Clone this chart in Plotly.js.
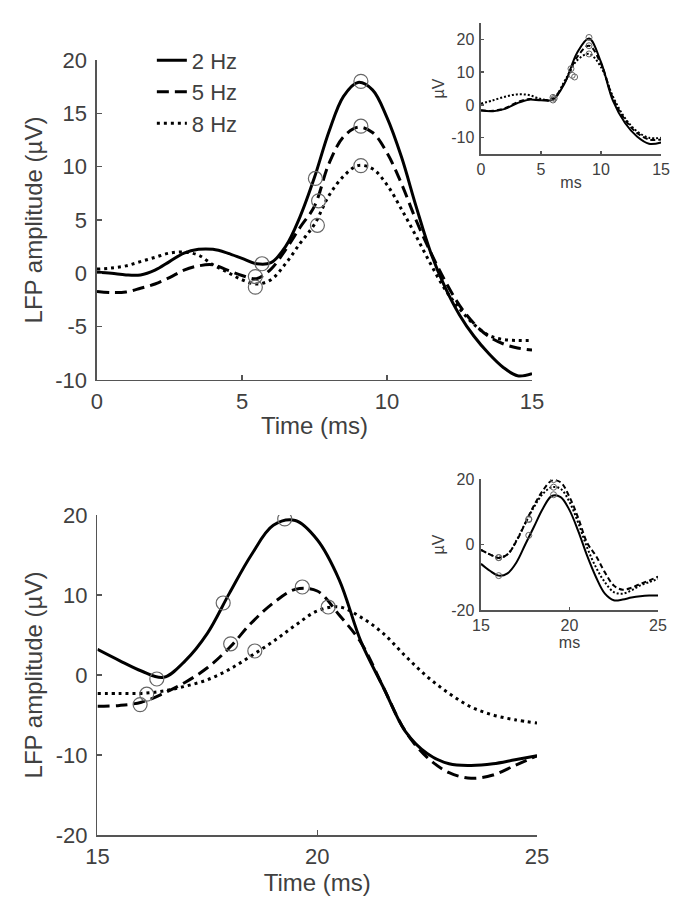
<!DOCTYPE html>
<html>
<head>
<meta charset="utf-8">
<script src="https://cdn.plot.ly/plotly-3.0.1.min.js"></script>
<style>html,body{margin:0;padding:0;background:#fff;}#chart{width:684px;height:915px;}</style>
</head>
<body>
<div id="chart"></div>
<script>
// ---------- Data ----------
const seriesNames = ["2 Hz", "5 Hz", "8 Hz"];

// Top main panel (0-15 ms)
const topX = [0,0.5,1,1.5,2,2.5,3,3.5,4,4.5,5,5.5,6,6.5,7,7.5,8,8.5,9,9.5,10,10.5,11,11.5,12,12.5,13,13.5,14,14.5,15];
const top2Hz = [0.1,0,-0.15,-0.15,0.3,1.1,1.9,2.25,2.25,1.9,1.4,0.9,1.0,2.5,5.3,9.0,13.3,16.6,17.9,17.2,14.6,10.9,6.3,2.0,-1.3,-3.9,-5.9,-7.5,-8.8,-9.6,-9.4];
const top5Hz = [-1.7,-1.8,-1.75,-1.4,-1.0,-0.4,0.3,0.7,0.8,0.3,-0.2,-0.5,0.4,2.2,4.3,6.3,10.3,12.8,13.7,13.2,11.3,8.4,5.0,2.0,-0.7,-3.0,-4.7,-5.9,-6.6,-7.0,-7.2];
const top8Hz = [0.4,0.5,0.7,1.1,1.5,1.9,2.0,1.7,0.8,0.1,-0.6,-1.0,-0.6,0.9,2.8,4.6,7.3,9.1,10.1,9.8,8.3,6.0,3.5,0.9,-1.5,-3.3,-4.8,-5.8,-6.2,-6.3,-6.3];
const topMarkX2 = [5.69,7.53,9.1], topMarkY2 = [0.9,8.9,18.0];
const topMarkX5 = [5.46,7.64,9.1], topMarkY5 = [-0.3,6.8,13.8];
const topMarkX8 = [5.46,7.6,9.1],  topMarkY8 = [-1.3,4.5,10.1];

// Top inset (0-15 ms)
const insTopX = [0,1,2,3,4,5,6,7,8,9,10,11,12,13,14,15];
const insTop2Hz = [-1.7,-1.9,-1.2,0.5,1.6,1.4,1.6,6.8,15.8,20.2,13.0,1.2,-5.5,-9.6,-11.8,-11.4];
const insTop5Hz = [-1.6,-1.8,-1.0,0.8,1.8,1.5,2.0,7.0,14.5,18.0,12.5,2.0,-4.5,-8.5,-10.5,-10.5];
const insTop8Hz = [0.4,1.4,2.5,3.2,3.0,1.8,1.6,7.5,13.5,15.5,11.5,2.5,-4.0,-8.0,-10.0,-10.0];
const insTopMarkX = [6.1,7.5,9.0, 6.0,7.6,9.0, 6.0,7.8,9.0];
const insTopMarkY = [2.0,11.0,20.5, 1.5,9.0,18.0, 2.3,8.5,15.5];

// Bottom main panel (15-25 ms)
const botX = [15,15.5,16,16.5,17,17.5,18,18.5,19,19.5,20,20.5,21,21.5,22,22.5,23,23.5,24,24.5,25];
const bot2Hz = [3.2,1.8,0.5,-0.3,1.8,5.2,10.2,15.0,18.7,19.3,16.9,11.9,4.1,-1.5,-7.0,-9.8,-11.1,-11.3,-11.1,-10.6,-10.1];
const bot5Hz = [-3.9,-3.8,-3.4,-2.3,-0.9,0.9,3.4,6.5,9.0,10.7,10.5,7.5,4.0,-1.5,-7.0,-10.3,-12.2,-12.9,-12.5,-11.3,-10.1];
const bot8Hz = [-2.3,-2.3,-2.3,-2.0,-1.4,-0.6,0.7,2.4,4.2,6.2,8.0,8.5,7.2,5.2,2.4,-0.2,-2.3,-4.0,-5.0,-5.6,-6.0];
const botMarkX2 = [16.35,17.86,19.26], botMarkY2 = [-0.5,9.0,19.5];
const botMarkX5 = [15.97,18.03,19.66], botMarkY5 = [-3.7,3.9,11.0];
const botMarkX8 = [16.12,18.58,20.25], botMarkY8 = [-2.4,3.0,8.5];

// Bottom inset (15-25 ms)
const insBotX = [15,15.5,16,16.5,17,17.5,18,18.5,19,19.5,20,20.5,21,21.5,22,22.5,23,23.5,24,24.5,25];
const insBot2Hz = [-5.9,-8.0,-9.5,-8.8,-5.5,0.0,5.5,11.0,14.8,14.5,10.5,4.0,-3.5,-10.0,-15.0,-17.0,-16.8,-16.2,-15.8,-15.6,-15.6];
const insBot5Hz = [-1.6,-3.0,-4.1,-3.0,1.0,6.5,12.0,16.5,19.5,19.0,14.5,8.0,0.5,-3.5,-8.5,-12.5,-13.8,-13.2,-12.0,-11.0,-9.8];
const insBot8Hz = [-1.6,-3.0,-4.0,-3.0,1.2,6.5,11.5,15.5,17.5,17.0,13.0,6.5,-1.0,-7.0,-11.5,-14.5,-15.0,-14.0,-12.5,-11.5,-10.5];
const insBotMarkX = [16.0,17.7,19.1, 16.0,17.7,19.1, 16.0,17.7,19.1];
const insBotMarkY = [-9.5,2.8,15.2, -4.0,7.8,19.8, -4.0,7.6,17.5];

// Tick values / labels
const topXTicks = [0,5,10,15];
const topYTicks = [-10,-5,0,5,10,15,20];
const topYLabels = ["-10","-5","0","5","10","15","20"];
const insTopYTicks = [-10,0,10,20];
const insTopYLabels = ["-10","0","10","20"];
const botXTicks = [15,20,25];
const botYTicks = [-20,-10,0,10,20];
const botYLabels = ["-20","-10","0","10","20"];
const insBotYTicks = [-20,0,20];
const insBotYLabels = ["-20","0","20"];

// ---------- Styles ----------
const TXT = '#404040';
const AX = '#555555';
const FONT = 'Arial, "Liberation Sans", sans-serif';
const mainDash = ['solid', '12px,6px', '3px,4px'];
const insDash = ['solid', '5px,3px', '2px,2px'];

function line(x, y, i, xa, ya, w, dashes, legend) {
  return {x: x, y: y, xaxis: xa, yaxis: ya, type: 'scatter', mode: 'lines',
    name: seriesNames[i], showlegend: !!legend, legendgroup: seriesNames[i],
    line: {color: '#000', width: w, dash: dashes[i], shape: 'spline', smoothing: 1},
    hoverinfo: 'skip'};
}
function marks(x, y, xa, ya, size, lw) {
  return {x: x, y: y, xaxis: xa, yaxis: ya, type: 'scatter', mode: 'markers', showlegend: false,
    marker: {symbol: 'circle-open', size: size, color: '#666', line: {width: lw, color: '#666'}},
    hoverinfo: 'skip'};
}

const traces = [
  line(topX, top2Hz, 0, 'x', 'y', 3, mainDash, true),
  line(topX, top5Hz, 1, 'x', 'y', 3, mainDash, true),
  line(topX, top8Hz, 2, 'x', 'y', 3, mainDash, true),
  marks(topMarkX2, topMarkY2, 'x', 'y', 14, 1.2),
  marks(topMarkX5, topMarkY5, 'x', 'y', 14, 1.2),
  marks(topMarkX8, topMarkY8, 'x', 'y', 14, 1.2),

  line(insTopX, insTop2Hz, 0, 'x2', 'y2', 2, insDash, false),
  line(insTopX, insTop5Hz, 1, 'x2', 'y2', 2, insDash, false),
  line(insTopX, insTop8Hz, 2, 'x2', 'y2', 2, insDash, false),
  marks(insTopMarkX, insTopMarkY, 'x2', 'y2', 6, 1),

  line(botX, bot2Hz, 0, 'x3', 'y3', 3, mainDash, false),
  line(botX, bot5Hz, 1, 'x3', 'y3', 3, mainDash, false),
  line(botX, bot8Hz, 2, 'x3', 'y3', 3, mainDash, false),
  marks(botMarkX2, botMarkY2, 'x3', 'y3', 14, 1.2),
  marks(botMarkX5, botMarkY5, 'x3', 'y3', 14, 1.2),
  marks(botMarkX8, botMarkY8, 'x3', 'y3', 14, 1.2),

  line(insBotX, insBot2Hz, 0, 'x4', 'y4', 2, insDash, false),
  line(insBotX, insBot5Hz, 1, 'x4', 'y4', 2, insDash, false),
  line(insBotX, insBot8Hz, 2, 'x4', 'y4', 2, insDash, false),
  marks(insBotMarkX, insBotMarkY, 'x4', 'y4', 6, 1)
];

function axis(opts) {
  return Object.assign({
    showline: true, linecolor: AX, linewidth: 1.5, mirror: false,
    ticks: 'inside', ticklen: 5, tickcolor: AX, tickwidth: 1.2,
    showgrid: false, zeroline: false, fixedrange: true,
    tickfont: {family: FONT, size: 22, color: TXT}
  }, opts);
}
const mainTitleFont = {family: FONT, size: 24, color: TXT};
const insFont = {family: FONT, size: 16, color: TXT};

const layout = {
  width: 684, height: 915,
  margin: {l: 0, r: 0, t: 0, b: 0},
  paper_bgcolor: '#fff', plot_bgcolor: 'rgba(0,0,0,0)',
  font: {family: FONT, color: TXT},
  showlegend: true,
  legend: {x: 0.222, y: 0.957, xanchor: 'left', yanchor: 'top', bgcolor: 'rgba(0,0,0,0)',
    font: {family: FONT, size: 22, color: TXT}, tracegroupgap: 0, itemwidth: 30},
  // top main
  xaxis: axis({domain: [0.1418, 0.7778], range: [0, 15], tickvals: topXTicks, anchor: 'y',
    ticklabelstandoff: 1,
    title: {text: 'Time (ms)', font: mainTitleFont, standoff: 4}}),
  yaxis: axis({domain: [0.5847, 0.9344], range: [-10, 20], tickvals: topYTicks, ticktext: topYLabels, anchor: 'x',
    ticklabelstandoff: 4,
    title: {text: 'LFP amplitude (µV)', font: mainTitleFont, standoff: 6}}),
  // top inset
  xaxis2: axis({domain: [0.7032, 0.9664], range: [0, 15], tickvals: topXTicks, anchor: 'y2', ticklen: 3,
    tickfont: insFont, ticklabelstandoff: 0,
    title: {text: 'ms', font: insFont, standoff: 0}}),
  yaxis2: axis({domain: [0.8314, 0.9752], range: [-15, 25], tickvals: insTopYTicks, ticktext: insTopYLabels, anchor: 'x2', ticklen: 3,
    tickfont: insFont, ticklabelstandoff: 2,
    title: {text: 'µV', font: insFont, standoff: 2}}),
  // bottom main
  xaxis3: axis({domain: [0.1425, 0.7851], range: [15, 25], tickvals: botXTicks, anchor: 'y3',
    ticklabelstandoff: 1,
    title: {text: 'Time (ms)', font: mainTitleFont, standoff: 2}}),
  yaxis3: axis({domain: [0.0874, 0.4372], range: [-20, 20], tickvals: botYTicks, ticktext: botYLabels, anchor: 'x3',
    ticklabelstandoff: 4,
    title: {text: 'LFP amplitude (µV)', font: mainTitleFont, standoff: 6}}),
  // bottom inset
  xaxis4: axis({domain: [0.7032, 0.962], range: [15, 25], tickvals: botXTicks, anchor: 'y4', ticklen: 3,
    tickfont: insFont, ticklabelstandoff: 0,
    title: {text: 'ms', font: insFont, standoff: 0}}),
  yaxis4: axis({domain: [0.3333, 0.4765], range: [-20, 20], tickvals: insBotYTicks, ticktext: insBotYLabels, anchor: 'x4', ticklen: 3,
    tickfont: insFont, ticklabelstandoff: 2,
    title: {text: 'µV', font: insFont, standoff: 2}})
};

Plotly.newPlot('chart', traces, layout, {displayModeBar: false, staticPlot: true});
</script>
</body>
</html>
